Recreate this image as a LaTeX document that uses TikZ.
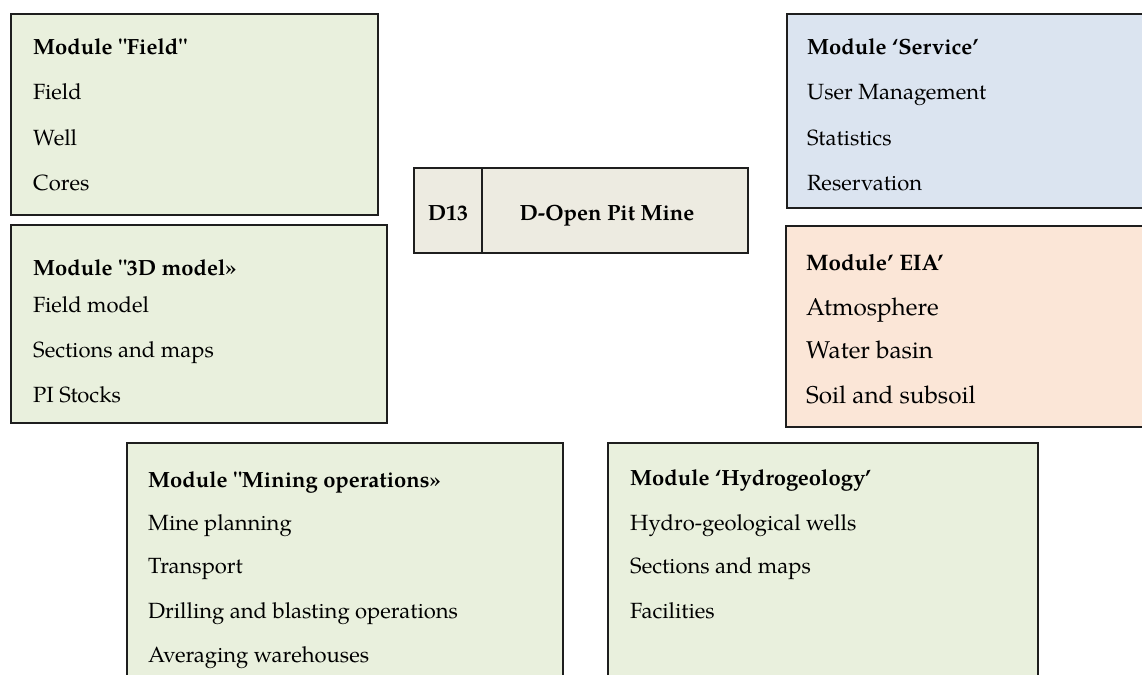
\documentclass[tikz,border=0pt]{standalone}
\usepackage{fontspec}
\setmainfont{TeX Gyre Pagella}[Ligatures=TeXOff]
\usetikzlibrary{calc}
\definecolor{boxgreen}{HTML}{E9F0DD}
\definecolor{boxblue}{HTML}{DBE4F0}
\definecolor{boxpeach}{HTML}{FBE6D7}
\definecolor{boxtan}{HTML}{EDEBE1}
\definecolor{boxline}{HTML}{1E1E1E}
\begin{document}
\begin{tikzpicture}[x=1pt,y=-1pt,
  modbox/.style={draw=boxline,line width=1.8pt,inner sep=0pt,outer sep=0pt,anchor=north west},
  item/.style={anchor=base west,inner sep=0pt,font=\fontsize{22}{26}\selectfont},
  head/.style={item,font=\fontsize{22}{26}\selectfont\bfseries},
  bitem/.style={anchor=base west,inner sep=0pt,font=\fontsize{24.3}{28}\selectfont},
  bhead/.style={bitem,font=\fontsize{22.4}{26}\selectfont\bfseries},
  ctext/.style={anchor=base,inner sep=0pt,font=\fontsize{22}{26}\selectfont\bfseries}]
\useasboundingbox (0,0) rectangle (1142,674);
\clip (0,0) rectangle (1142,674);
% Field
\node[modbox,fill=boxgreen,minimum width=367pt,minimum height=201pt] (field) at (11,14) {};
\node[head] (fieldT) at ($(field.north west)+(22,41)$) {Module "Field"};
\node[item] (field1) at ($(field.north west)+(22,86)$) {Field};
\node[item] (field2) at ($(field.north west)+(22,131)$) {Well};
\node[item] (field3) at ($(field.north west)+(22,176)$) {Cores};
% 3D model
\node[modbox,fill=boxgreen,minimum width=376pt,minimum height=198pt] (model) at (11,225) {};
\node[head] (modelT) at ($(model.north west)+(22,50)$) {Module "3D model»};
\node[item] (model1) at ($(model.north west)+(22,87)$) {Field model};
\node[item] (model2) at ($(model.north west)+(22,132)$) {Sections and maps};
\node[item] (model3) at ($(model.north west)+(22,177)$) {PI Stocks};
% centre
\node[modbox,fill=boxtan,minimum width=334pt,minimum height=85pt] (mine) at (414,168) {};
\coordinate (divT) at ($(mine.north west)+(68,0)$);
\coordinate (divB) at ($(mine.south west)+(68,0)$);
\draw[boxline,line width=1.8pt] (divT) -- (divB);
\node[ctext] (code) at ($(mine.north west)+(34,52)$) {D13};
\node[ctext] (name) at ($(mine.north west)+(193,52)$) {D-Open Pit Mine};
% Service
\node[modbox,fill=boxblue,minimum width=380pt,minimum height=194pt] (serv) at (787,14) {};
\node[head] (servT) at ($(serv.north west)+(20,41)$) {Module ‘Service’};
\node[item] (serv1) at ($(serv.north west)+(20,86)$) {User Management};
\node[item] (serv2) at ($(serv.north west)+(20,131)$) {Statistics};
\node[item] (serv3) at ($(serv.north west)+(20,176)$) {Reservation};
% EIA
\node[modbox,fill=boxpeach,minimum width=380pt,minimum height=201pt] (eia) at (786,226) {};
\node[bhead] (eiaT) at ($(eia.north west)+(20,44)$) {Module’ EIA’};
\node[bitem] (eia1) at ($(eia.north west)+(20,89)$) {Atmosphere};
\node[bitem] (eia2) at ($(eia.north west)+(20,132)$) {Water basin};
\node[bitem] (eia3) at ($(eia.north west)+(20,177)$) {Soil and subsoil};
% Mining operations
\node[modbox,fill=boxgreen,minimum width=436pt,minimum height=260pt] (mining) at (127,443) {};
\node[head] (miningT) at ($(mining.north west)+(21,44)$) {Module "Mining operations»};
\node[item] (mining1) at ($(mining.north west)+(21,87)$) {Mine planning};
\node[item] (mining2) at ($(mining.north west)+(21,130)$) {Transport};
\node[item] (mining3) at ($(mining.north west)+(21,175)$) {Drilling and blasting operations};
\node[item] (mining4) at ($(mining.north west)+(21,219)$) {Averaging warehouses};
% Hydrogeology
\node[modbox,fill=boxgreen,minimum width=430pt,minimum height=260pt] (hydro) at (608,443) {};
\node[head] (hydroT) at ($(hydro.north west)+(22,42)$) {Module ‘Hydrogeology’};
\node[item] (hydro1) at ($(hydro.north west)+(22,87)$) {Hydro-geological wells};
\node[item] (hydro2) at ($(hydro.north west)+(22,130)$) {Sections and maps};
\node[item] (hydro3) at ($(hydro.north west)+(22,175)$) {Facilities};
\end{tikzpicture}
\end{document}
